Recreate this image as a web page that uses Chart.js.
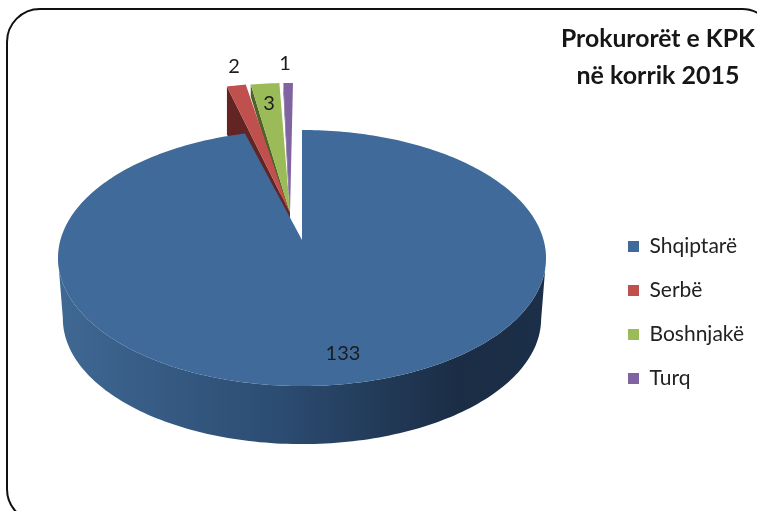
<!DOCTYPE html>
<html>
<head>
<meta charset="utf-8">
<script src="https://cdn.jsdelivr.net/npm/chart.js@4"></script>
<style>
  html, body { margin: 0; padding: 0; background: #fff; overflow: hidden; }
  #wrap { position: relative; width: 757px; height: 511px; overflow: hidden; }
  #frame { position: absolute; left: 6px; top: 8px; width: 770px; height: 515px; border: 2px solid #111; border-radius: 34px; box-sizing: border-box; }
  #pie { position: absolute; left: 0; top: 0; filter: blur(0.7px); }
</style>
</head>
<body>
<div id="wrap">
  <div id="frame"></div>
  <canvas id="pie" width="757" height="511"></canvas>
</div>
<script>
// chart data
const titleLines = ["Prokurorët e KPK", "në korrik 2015"];
const categories = ["Shqiptarë", "Serbë", "Boshnjakë", "Turq"];
const prosecutors = [133, 2, 3, 1];

// colours
const topColors = ["#3f6a9a", "#c0504d", "#9bbb59", "#8064a2"];
const sideColors = ["#2a4a6f", "#632523", "#4f6228", "#3f3151"];

// 3d look: perspective of the pie plane
const centerX = 302;
const centerY = 240;
const radiusX = 241.6;
const radiusY = 125.5;
const tilt = 0.1406;
const wallDepth = 58;
const wallShrink = 0.98;

// pulled out slices
const sliceDepth = [0, 48, 12, 9];
const apexShift = { x: -12, y: -27 };
const arcShiftY = -47;

const labelSpots = [[234, 67], [269, 104], [285, 64]];
const mainLabelSpot = [343, 354];

// project an angle of the pie circle on to the tilted plane
function project(angle) {
  const u = Math.cos(angle);
  const v = -Math.sin(angle);
  const w = 1 + tilt * v;
  return { x: centerX + radiusX * u / w, y: centerY - radiusY * v / w };
}

function arcPoints(start, end) {
  const points = [];
  const steps = Math.max(2, Math.ceil((end - start) / 0.02));
  for (let i = 0; i <= steps; i++) {
    points.push(project(start + (end - start) * i / steps));
  }
  return points;
}

function fillPolygon(ctx, points, fill) {
  ctx.beginPath();
  points.forEach((p, i) => (i ? ctx.lineTo(p.x, p.y) : ctx.moveTo(p.x, p.y)));
  ctx.closePath();
  ctx.fillStyle = fill;
  ctx.fill();
}

function drawPulledSlice(ctx, arc, index) {
  const mid = (arc.startAngle + arc.endAngle) / 2;
  const shiftX = -8 + 45 * Math.cos(mid);
  const rim = arcPoints(arc.startAngle, arc.endAngle).map((p) => ({ x: p.x + shiftX, y: p.y + arcShiftY }));
  const apex = { x: centerX + apexShift.x, y: centerY + apexShift.y };
  const depth = sliceDepth[index];
  fillPolygon(ctx, [rim[0], apex, { x: apex.x, y: apex.y + depth }, { x: rim[0].x, y: rim[0].y + depth }], sideColors[index]);
  fillPolygon(ctx, [apex].concat(rim), topColors[index]);
}

function drawMainSlice(ctx, arc) {
  const rim = arcPoints(arc.startAngle, arc.endAngle);
  const lower = rim.map((p) => ({
    x: centerX + (p.x - centerX) * wallShrink,
    y: centerY + (p.y - centerY) * wallShrink + wallDepth + 3
  }));
  // only the front of the rim shows a wall, from its right end round to its left end
  let right = 0;
  let left = 0;
  rim.forEach((p, i) => {
    if (p.x > rim[right].x) right = i;
    if (p.x < rim[left].x) left = i;
  });
  const wall = ctx.createLinearGradient(58, 0, 546, 0);
  wall.addColorStop(0, "#3f6893");
  wall.addColorStop(0.45, "#2c4c72");
  wall.addColorStop(0.82, "#1b2d45");
  wall.addColorStop(1, "#1c2f48");
  fillPolygon(ctx, rim.slice(right, left + 1).concat(lower.slice(right, left + 1).reverse()), wall);
  fillPolygon(ctx, [{ x: centerX, y: centerY }].concat(rim), topColors[0]);
}

// takes over the drawing of the arcs, angles still come from the pie controller
const pie3d = {
  id: "pie3d",
  afterLayout(chart) {
    const title = chart.titleBlock;
    title.left = 561;
    title.right = 755;
    title.top = 10;
    const legend = chart.legend;
    legend.left = 628 - legend.options.labels.padding;
    legend.top = 236 - legend.options.labels.padding;
  },
  beforeDatasetDraw(chart, args) {
    const ctx = chart.ctx;
    const arcs = chart.getDatasetMeta(args.index).data;
    ctx.save();
    for (let i = arcs.length - 1; i > 0; i--) {
      drawPulledSlice(ctx, arcs[i], i);
    }
    drawMainSlice(ctx, arcs[0]);
    ctx.font = "20px Lato";
    ctx.fillStyle = "#1c1c1c";
    ctx.textAlign = "center";
    ctx.textBaseline = "middle";
    ctx.fillText(String(prosecutors[0]), mainLabelSpot[0], mainLabelSpot[1]);
    labelSpots.forEach((spot, i) => {
      ctx.fillText(String(prosecutors[i + 1]), spot[0], spot[1]);
    });
    ctx.restore();
    return false;
  }
};

new Chart(document.getElementById("pie"), {
  type: "pie",
  data: {
    labels: categories,
    datasets: [{
      data: prosecutors,
      backgroundColor: topColors,
      borderWidth: 0
    }]
  },
  options: {
    responsive: false,
    animation: false,
    rotation: 0,
    plugins: {
      title: {
        display: true,
        text: titleLines,
        color: "#161616",
        font: { family: "Lato", size: 25, weight: "bold", lineHeight: 1.5 }
      },
      legend: {
        position: "right",
        align: "start",
        labels: {
          color: "#222",
          boxWidth: 11,
          boxHeight: 11,
          padding: 23,
          font: { family: "Lato", size: 21 }
        }
      },
      tooltip: { enabled: false }
    }
  },
  plugins: [pie3d]
});
</script>
</body>
</html>
